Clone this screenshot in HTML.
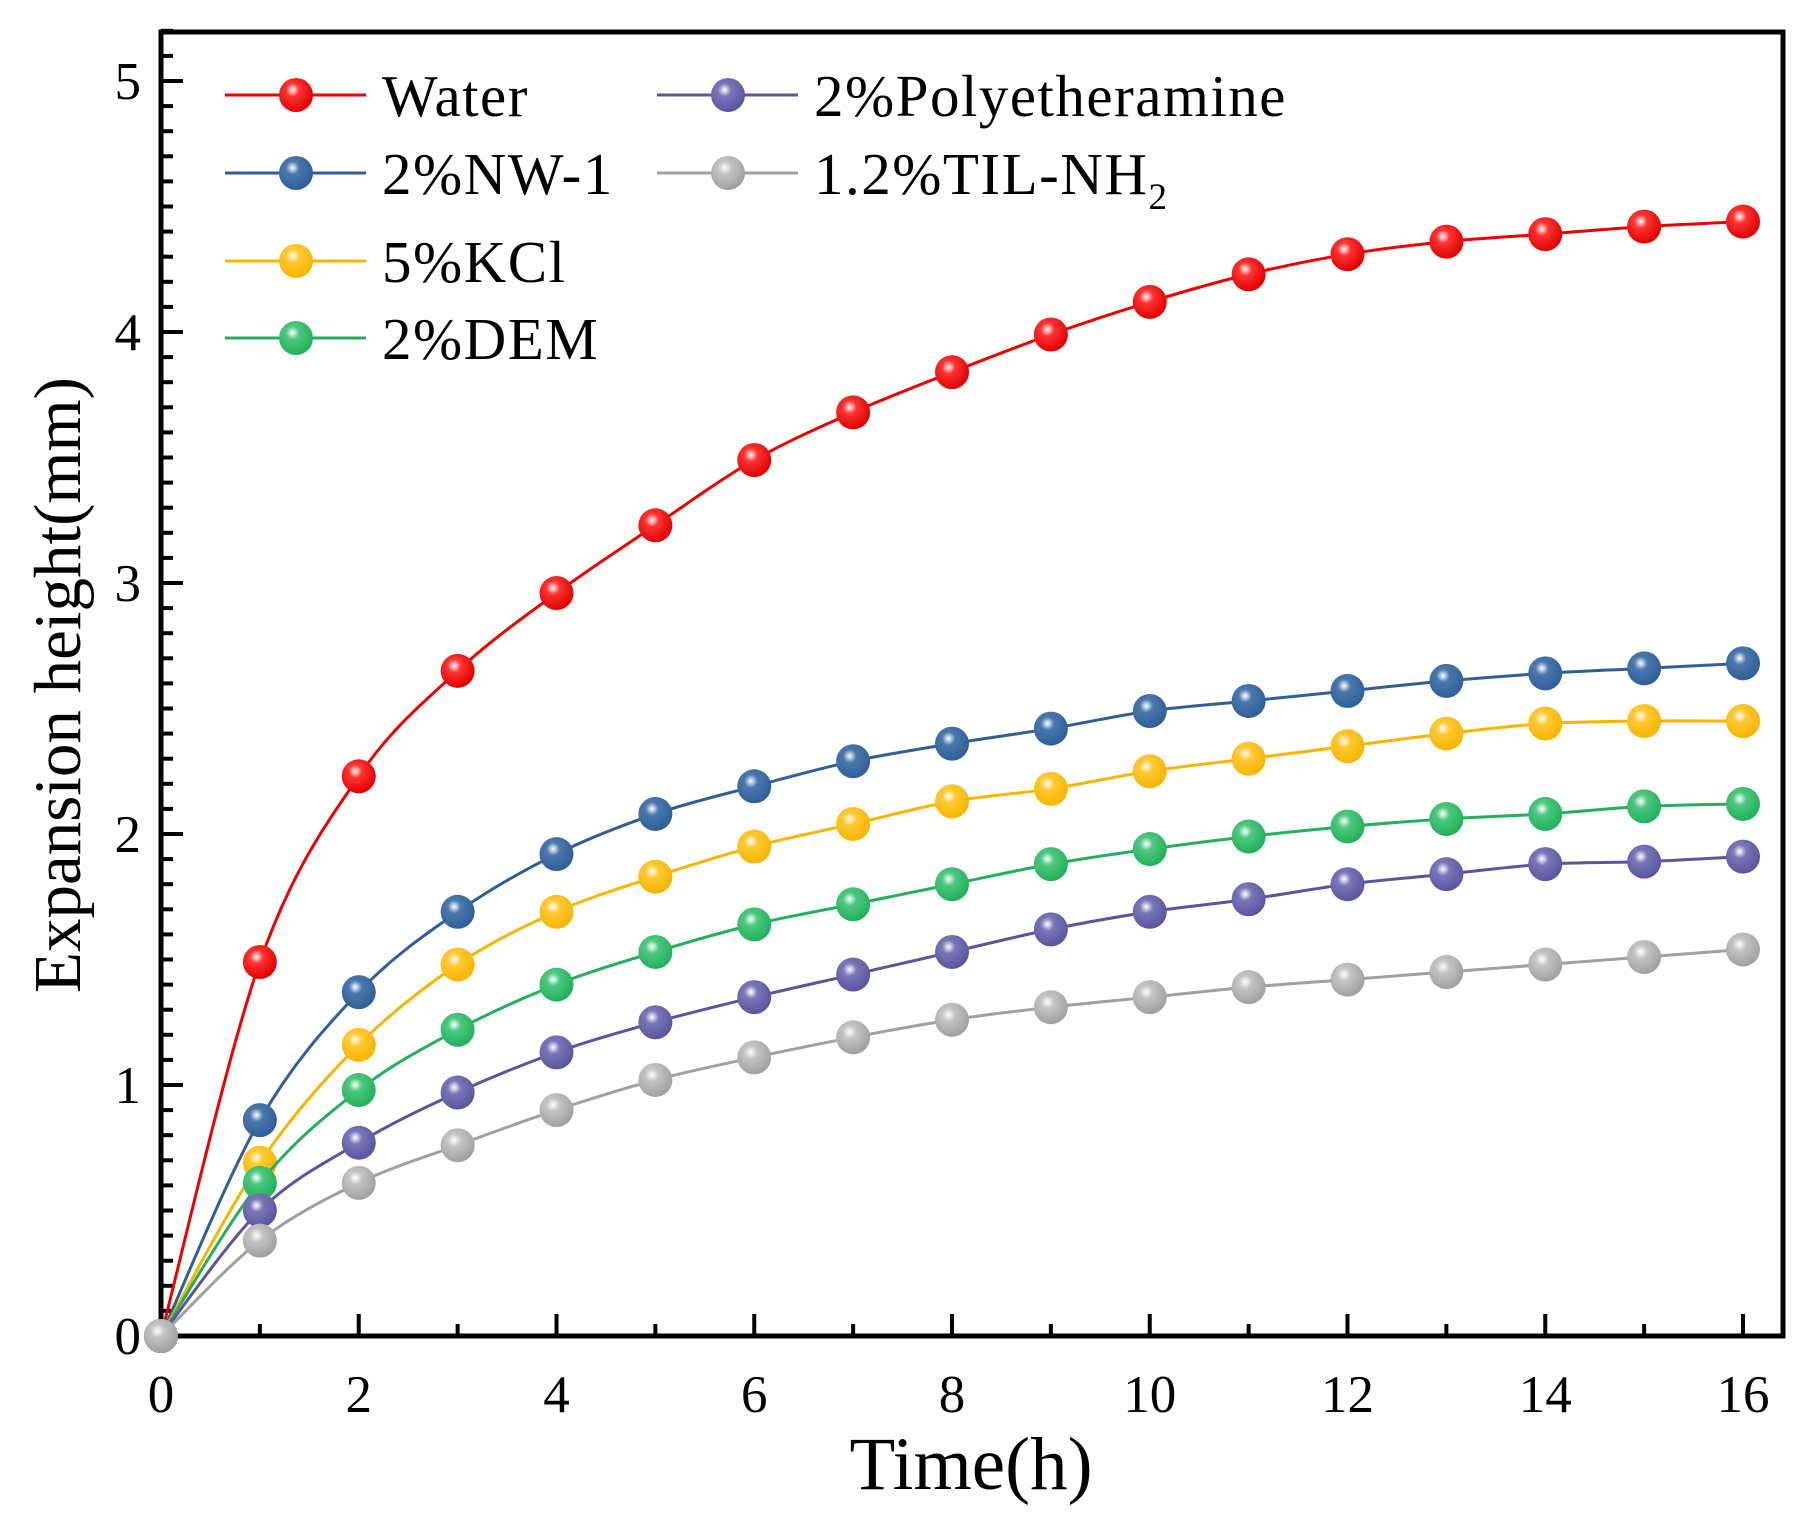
<!DOCTYPE html>
<html><head><meta charset="utf-8"><style>
html,body{margin:0;padding:0;background:#fff;}
svg{display:block;font-family:"Liberation Serif",serif;}
</style></head><body>
<svg id="chart" width="1806" height="1526" viewBox="0 0 1806 1526">
<defs>
<radialGradient id="gRed" cx="0.4" cy="0.35" r="0.65"><stop offset="0" stop-color="#fff"/><stop offset="0.3" stop-color="#f33"/><stop offset="1" stop-color="#e00000"/></radialGradient>
<radialGradient id="gBlue" cx="0.4" cy="0.35" r="0.65"><stop offset="0" stop-color="#fff"/><stop offset="0.3" stop-color="#4a78ad"/><stop offset="1" stop-color="#2f5f98"/></radialGradient>
<radialGradient id="gYel" cx="0.4" cy="0.35" r="0.65"><stop offset="0" stop-color="#fff"/><stop offset="0.3" stop-color="#ffc933"/><stop offset="1" stop-color="#f7b500"/></radialGradient>
<radialGradient id="gGrn" cx="0.4" cy="0.35" r="0.65"><stop offset="0" stop-color="#fff"/><stop offset="0.3" stop-color="#4cc880"/><stop offset="1" stop-color="#22b05a"/></radialGradient>
<radialGradient id="gPur" cx="0.4" cy="0.35" r="0.65"><stop offset="0" stop-color="#fff"/><stop offset="0.3" stop-color="#7a76b8"/><stop offset="1" stop-color="#5a559e"/></radialGradient>
<radialGradient id="gGry" cx="0.4" cy="0.35" r="0.65"><stop offset="0" stop-color="#fff"/><stop offset="0.3" stop-color="#c4c4c4"/><stop offset="1" stop-color="#a0a0a0"/></radialGradient>
</defs>
<g id="plot"></g>
</svg>
<script>
const hours = [0,1,2,3,4,5,6,7,8,9,10,11,12,13,14,15,16];
const water = [0,1.49,2.23,2.65,2.96,3.23,3.49,3.68,3.84,3.99,4.12,4.23,4.31,4.36,4.39,4.42,4.44];
const nw1 = [0,0.86,1.37,1.69,1.92,2.08,2.19,2.29,2.36,2.42,2.49,2.53,2.57,2.61,2.64,2.66,2.68];
const kcl = [0,0.69,1.16,1.48,1.69,1.83,1.95,2.04,2.13,2.18,2.25,2.30,2.35,2.40,2.44,2.45,2.45];
const dem = [0,0.61,0.98,1.22,1.40,1.53,1.64,1.72,1.80,1.88,1.94,1.99,2.03,2.06,2.08,2.11,2.12];
const poly = [0,0.50,0.77,0.97,1.13,1.25,1.35,1.44,1.53,1.62,1.69,1.74,1.80,1.84,1.88,1.89,1.91];
const til = [0,0.38,0.61,0.76,0.90,1.02,1.11,1.19,1.26,1.31,1.35,1.39,1.42,1.45,1.48,1.51,1.54];
const xTickLabels = ["0","2","4","6","8","10","12","14","16"];
const yTickLabels = ["0","1","2","3","4","5"];

const NS = "http://www.w3.org/2000/svg";
const g = document.getElementById('plot');
const X0=161, X1=1743, Y0=1336, Y5=81;
function sx(v){return X0+(X1-X0)*v/16;}
function sy(v){return Y0-(Y0-Y5)*v/5;}
function el(tag, attrs, parent){const e=document.createElementNS(NS,tag);for(const k in attrs)e.setAttribute(k,attrs[k]);(parent||g).appendChild(e);return e;}

const frame = el('rect',{x:161,y:32,width:1622,height:1304,fill:'none',stroke:'#000','stroke-width':5});



for(let h=1; h<=16; h++){
  const major = h%2===0;
  const t = el('line',{x1:sx(h),x2:sx(h),y1:Y0,y2:Y0-(major?22:12),stroke:'#000','stroke-width':4});
  
  
}
xTickLabels.forEach(function(lb){
  const t = el('text',{x:sx(+lb),y:1412,'text-anchor':'middle','font-size':53,fill:'#000'});
  t.textContent = lb;
  
  
});
for(let i=1;i<=52;i++){
  const v=i/10;
  const major = i%10===0;
  const t = el('line',{x1:X0,x2:X0+(major?22:12),y1:sy(v),y2:sy(v),stroke:'#000','stroke-width':4});
  
  
}
yTickLabels.forEach(function(lb){
  const t = el('text',{x:141,y:sy(+lb)+18,'text-anchor':'end','font-size':53,fill:'#000'});
  t.textContent = lb;
  
  
});

const xt = el('text',{x:971,y:1489,'text-anchor':'middle','font-size':75,fill:'#000'});
xt.textContent='Time(h)';


const yt = el('text',{x:0,y:0,'text-anchor':'middle','font-size':67,fill:'#000',transform:'translate(80,685) rotate(-90)'});
yt.textContent='Expansion height(mm)';



function smoothPath(pts){
  let d='M'+pts[0][0]+','+pts[0][1];
  for(let i=0;i<pts.length-1;i++){
    const p0=pts[Math.max(i-1,0)], p1=pts[i], p2=pts[i+1], p3=pts[Math.min(i+2,pts.length-1)];
    const c1x=p1[0]+(p2[0]-p0[0])/6, c1y=p1[1]+(p2[1]-p0[1])/6;
    const c2x=p2[0]-(p3[0]-p1[0])/6, c2y=p2[1]-(p3[1]-p1[1])/6;
    d+=' C'+c1x+','+c1y+' '+c2x+','+c2y+' '+p2[0]+','+p2[1];
  }
  return d;
}

const seriesList = [
  {name:'water', vals:water, color:'#ee0000', grad:'gRed'},
  {name:'nw-1', vals:nw1, color:'#2f5f98', grad:'gBlue'},
  {name:'kcl', vals:kcl, color:'#f7b500', grad:'gYel'},
  {name:'dem', vals:dem, color:'#22b05a', grad:'gGrn'},
  {name:'polyetheramine', vals:poly, color:'#5a559e', grad:'gPur'},
  {name:'til-nh2', vals:til, color:'#a0a0a0', grad:'gGry'}
];
seriesList.forEach(function(s){
  const grp = el('g',{});
  
  
  const pts = hours.map(function(h,i){return [sx(h), sy(s.vals[i])];});
  const p = el('path',{d:smoothPath(pts),fill:'none',stroke:s.color,'stroke-width':3},grp);
  
  
  pts.forEach(function(pt){
    const c = el('circle',{cx:pt[0],cy:pt[1],r:17,fill:'url(#'+s.grad+')'},grp);
    
    
  });
});

const legendEntries = [
  {label:'Water', color:'#ee0000', grad:'gRed', x:225, y:95},
  {label:'2%NW-1', color:'#2f5f98', grad:'gBlue', x:225, y:173},
  {label:'5%KCl', color:'#f7b500', grad:'gYel', x:225, y:261},
  {label:'2%DEM', color:'#22b05a', grad:'gGrn', x:225, y:338},
  {label:'2%Polyetheramine', color:'#5a559e', grad:'gPur', x:657, y:95},
  {label:'1.2%TIL-NH', sub:'2', color:'#a0a0a0', grad:'gGry', x:657, y:173}
];
legendEntries.forEach(function(e){
  const grp = el('g',{});
  
  
  el('line',{x1:e.x,x2:e.x+141,y1:e.y,y2:e.y,stroke:e.color,'stroke-width':3},grp);
  el('circle',{cx:e.x+71,cy:e.y,r:17,fill:'url(#'+e.grad+')'},grp);
  const t = el('text',{x:e.x+157,y:e.y+21,'font-size':59,fill:'#000','letter-spacing':1.5},grp);
  t.textContent = e.label;
  if(e.sub){
    const ts = el('tspan',{'font-size':37,dy:15},t);
    ts.textContent = e.sub;
  }
});
</script>
</body></html>
